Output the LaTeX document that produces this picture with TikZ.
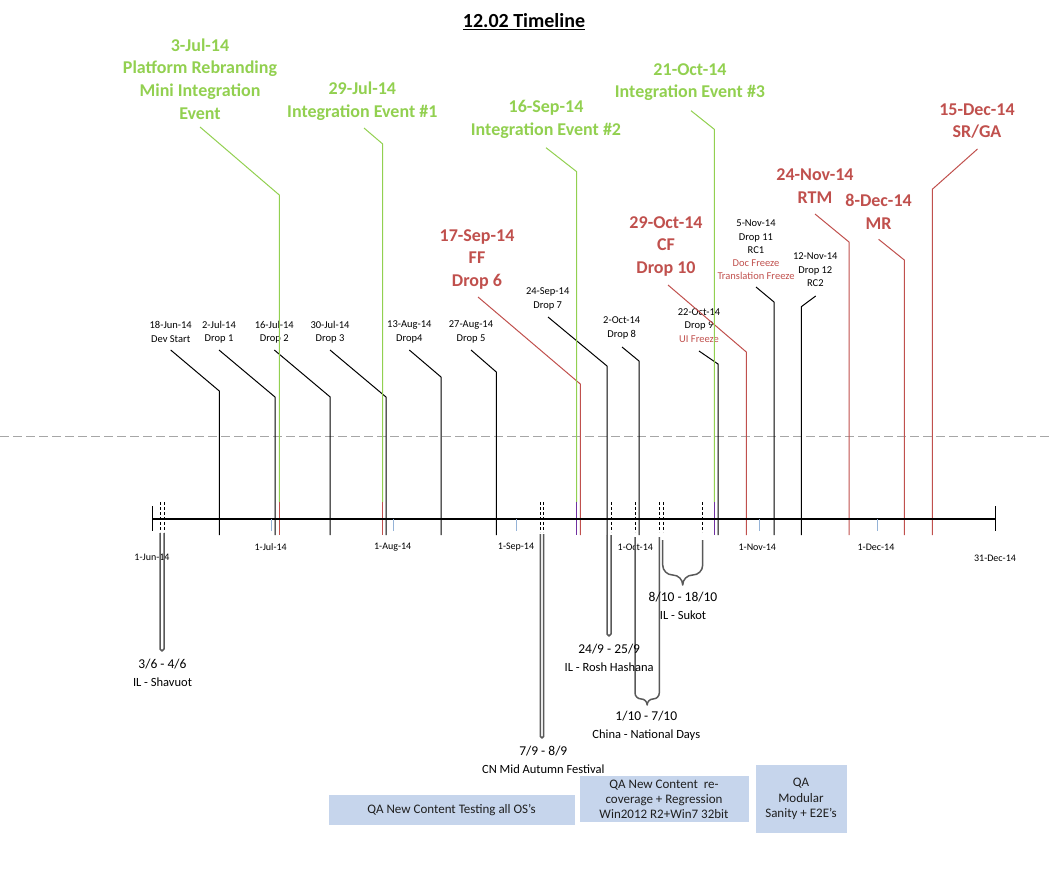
\documentclass[tikz,border=0pt]{standalone}
\usepackage{fontspec}
\setmainfont{Carlito}
\definecolor{evgreen}{HTML}{92D050}
\definecolor{evred}{HTML}{C0504D}
\definecolor{evpurple}{HTML}{7030A0}
\definecolor{tickblue}{HTML}{95B3D7}
\definecolor{qafill}{HTML}{C6D5EC}
\definecolor{brgray}{HTML}{595959}
\definecolor{dashgray}{HTML}{A6A6A6}
\newcommand{\tlconn}[5]{\coordinate (#2s) at (#3);\coordinate (#2t) at (#4);\coordinate (#2b) at (#5);\draw[#1] (#2s) -- (#2t) -- (#2b);}
\newcommand{\holbrace}[4]{%
 \pgfmathsetmacro{\hbr}{(#2-#1)/4}%
 \pgfmathsetmacro{\hbk}{0.5523*\hbr}%
 \pgfmathsetmacro{\hbm}{(#1+#2)/2}%
 \draw[brc] (#1,#3) -- (#1,#4-2*\hbr) .. controls (#1,#4-2*\hbr+\hbk) and (#1+\hbr-\hbk,#4-\hbr) .. (#1+\hbr,#4-\hbr) .. controls (#1+\hbr+\hbk,#4-\hbr) and (\hbm,#4-\hbk) .. (\hbm,#4) .. controls (\hbm,#4-\hbk) and (#2-\hbr-\hbk,#4-\hbr) .. (#2-\hbr,#4-\hbr) .. controls (#2-\hbr+\hbk,#4-\hbr) and (#2,#4-2*\hbr+\hbk) .. (#2,#4-2*\hbr) -- (#2,#3);%
}
\begin{document}
\begin{tikzpicture}[x=1pt,y=-1pt,
  titlelbl/.style={font=\fontsize{20}{24}\selectfont\bfseries, inner sep=0pt},
  smalllbl/.style={font=\fontsize{10.5}{13.3}\selectfont, align=center, inner sep=0pt},
  biglbl/.style={font=\fontsize{18}{22.6}\selectfont\bfseries, align=center, inner sep=0pt},
  axlbl/.style={font=\fontsize{10}{12}\selectfont, inner sep=0pt},
  hollbl/.style={font=\fontsize{13.5}{18}\selectfont, align=center, inner sep=0pt},
  qabox/.style={fill=qafill, draw=none, align=center, inner sep=0pt, font=\fontsize{13}{15.3}\selectfont, text=black!88},
  blk/.style={draw=black, line width=1pt},
  grn/.style={draw=evgreen, line width=1pt},
  rd/.style={draw=evred, line width=1pt},
  prp/.style={draw=evpurple, line width=1pt},
  axisline/.style={draw=black, line width=1.1pt},
  bluetick/.style={draw=tickblue, line width=1pt},
  midline/.style={draw=dashgray, line width=1pt, dash pattern=on 9pt off 4pt},
  brc/.style={draw=brgray, line width=1.5pt, line join=round},
  dsh/.style={draw=black, line width=0.7pt, dash pattern=on 3pt off 2pt},
]
\useasboundingbox (0,0) rectangle (1052,879);
% title
\node[titlelbl] (title) at (524,22) {\underline{12.02 Timeline}};
% grey dashed separator
\coordinate (hl) at (0,436.3); \coordinate (hr) at (1052,436.3);
\draw[midline] (hl) -- (hr);

% drop labels
\node[smalllbl] (ldev) at (170.7,332) {18-Jun-14\\Dev Start};
\node[smalllbl] (ld1) at (219,332) {2-Jul-14\\Drop 1};
\node[smalllbl] (ld2) at (274.3,332) {16-Jul-14\\Drop 2};
\node[smalllbl] (ld3) at (330,332) {30-Jul-14\\Drop 3};
\node[smalllbl] (ld4) at (409.3,332) {13-Aug-14\\Drop4};
\node[smalllbl] (ld5) at (471,332) {27-Aug-14\\Drop 5};
\node[smalllbl] (ld7) at (547.7,299) {24-Sep-14\\Drop 7};
\node[smalllbl] (ld8) at (621.7,328) {2-Oct-14\\Drop 8};
\node[smalllbl] (ld9) at (699,325.5) {22-Oct-14\\Drop 9\\\textcolor{evred}{UI Freeze}};
\node[smalllbl] (ld11) at (756,250) {5-Nov-14\\Drop 11\\RC1\\\textcolor{evred}{Doc Freeze}\\\textcolor{evred}{Translation Freeze}};
\node[smalllbl] (ld12) at (815.3,269.7) {12-Nov-14\\Drop 12\\RC2};

% milestone labels
\node[biglbl, text=evgreen] (e1) at (200,78.9) {3-Jul-14\\Platform Rebranding\\Mini Integration\\Event};
\node[biglbl, text=evgreen] (e2) at (362.3,101) {29-Jul-14\\Integration Event \#1};
\node[biglbl, text=evgreen] (e3) at (546,119.2) {16-Sep-14\\Integration Event \#2};
\node[biglbl, text=evgreen] (e4) at (690,82.3) {21-Oct-14\\Integration Event \#3};
\node[biglbl, text=evred] (m1) at (477,259.5) {17-Sep-14\\FF\\Drop 6};
\node[biglbl, text=evred] (m2) at (666,246.2) {29-Oct-14\\CF\\Drop 10};
\node[biglbl, text=evred] (m3) at (815,186.3) {24-Nov-14\\RTM};
\node[biglbl, text=evred] (m4) at (878.6,211.7) {8-Dec-14\\MR};
\node[biglbl, text=evred] (m5) at (977,121) {15-Dec-14\\SR/GA};

% drop connectors
\tlconn{blk}{cdev}{170.7,350}{219.3,391}{219.3,535}
\tlconn{blk}{cda}{219,350}{275,397}{275,535}
\tlconn{blk}{cdb}{274.3,350}{330.2,397}{330.2,535}
\tlconn{blk}{cdc}{330,350}{386,397}{386,535}
\tlconn{blk}{cdd}{409.3,350}{441,377}{441,535}
\tlconn{blk}{cde}{471,350}{496.3,372}{496.3,535}
\tlconn{blk}{cdg}{548,317}{607,366}{607,535}
\tlconn{blk}{cdh}{622,347}{639,361}{639,535}
\tlconn{blk}{cdi}{699,351}{718,364}{718,535}
\tlconn{blk}{cdk}{756,287}{774,302}{774,535}
\tlconn{blk}{cdl}{815.7,296}{801.3,306.7}{801.3,535}

% red milestone connectors
\tlconn{rd}{cma}{478,297}{580.3,384}{580.3,535}
\tlconn{rd}{cmb}{668,285}{746.3,352}{746.3,535}
\tlconn{rd}{cmc}{815,214}{849,242}{849,535}
\tlconn{rd}{cmd}{878.6,239.3}{904.3,260}{904.3,535}
\tlconn{rd}{cme}{977.5,149}{932.3,189.3}{932.3,535}

% green integration connectors
\tlconn{grn}{cea}{200,127}{279.3,195}{279.3,502}
\coordinate (ceae) at (279.3,535); \draw[rd] (ceab) -- (ceae);
\tlconn{grn}{ceb}{364,128}{382.7,144}{382.7,502}
\coordinate (cebe) at (382.7,535); \draw[rd] (cebb) -- (cebe);
\tlconn{grn}{cec}{546,147.7}{576.7,171.7}{576.7,502}
\coordinate (cece) at (576.7,535); \draw[prp] (cecb) -- (cece);
\tlconn{grn}{ced}{691,110.7}{714.3,129.3}{714.3,502}
\coordinate (cede) at (714.3,535); \draw[prp] (cedb) -- (cede);

% axis
\coordinate (ax0) at (152.3,519); \coordinate (ax1) at (995.3,519);
\draw[axisline] (ax0) -- (ax1);
\coordinate (ax0a) at (152.3,506); \coordinate (ax0b) at (152.3,531);
\coordinate (ax1a) at (995.3,506); \coordinate (ax1b) at (995.3,531);
\draw[axisline] (ax0a) -- (ax0b);
\draw[axisline] (ax1a) -- (ax1b);
\foreach \x in {271,393,516,759,877} \draw[bluetick] (\x,519) -- (\x,531);

% axis labels
\node[axlbl] (xjun) at (152,557.7) {1-Jun-14};
\node[axlbl] (xjul) at (270.7,547.3) {1-Jul-14};
\node[axlbl] (xaug) at (392.7,547.3) {1-Aug-14};
\node[axlbl] (xsep) at (516,547.3) {1-Sep-14};
\node[axlbl] (xoct) at (635.3,547.3) {1-Oct-14};
\node[axlbl] (xnov) at (757.3,547.3) {1-Nov-14};
\node[axlbl] (xdec) at (876,547.3) {1-Dec-14};
\node[axlbl] (xend) at (995,558) {31-Dec-14};

% holiday markers
\foreach \x in {160,164,540.3,543.7,611,635.7,659.3,663.3,702.7} \draw[dsh] (\x,502) -- (\x,532);
\holbrace{160}{164}{533}{651}
\holbrace{540.3}{543.7}{534}{738}
\holbrace{607}{611}{535}{636}
\holbrace{635}{659.3}{537}{705}
\holbrace{662.7}{702.7}{540}{585}

\node[hollbl] (ha) at (162.5,673.3) {3/6 - 4/6\\{\fontsize{12.5}{18}\selectfont IL - Shavuot}};
\node[hollbl] (hb) at (543.3,759.8) {7/9 - 8/9\\{\fontsize{12.5}{18}\selectfont CN Mid Autumn Festival}};
\node[hollbl] (hc) at (609.2,658) {24/9 - 25/9\\{\fontsize{12.5}{18}\selectfont IL - Rosh Hashana}};
\node[hollbl] (hd) at (646.3,725.8) {1/10 - 7/10\\{\fontsize{12.5}{18}\selectfont China - National Days}};
\node[hollbl] (he) at (683,606) {8/10 - 18/10\\{\fontsize{12.5}{18}\selectfont IL - Sukot}};

% QA boxes
\node[qabox, minimum width=246pt, minimum height=30.5pt] (qa1) at (451.5,810.2) {QA New Content Testing all OS’s};
\node[qabox, minimum width=169pt, minimum height=45.5pt] (qa2) at (664,799.2) {QA New Content~ re-\\coverage + Regression\\Win2012 R2+Win7 32bit};
\node[qabox, minimum width=91pt, minimum height=68pt] (qa3) at (801,799) {QA\\Modular\\Sanity + E2E’s};
\end{tikzpicture}
\end{document}
